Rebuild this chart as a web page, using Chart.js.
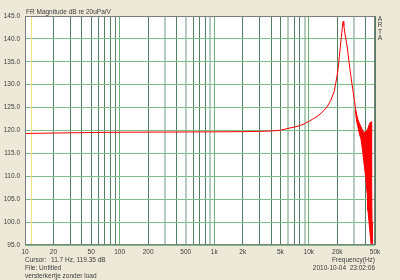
<!DOCTYPE html>
<html lang="en">
  <head>
    <meta charset="UTF-8" />
    <title>FR Magnitude</title>
    <script src="https://cdn.jsdelivr.net/npm/chart.js"></script>
    <style>
      body {
        margin: 0;
        background: #ece9d8;
      }
    </style>
  </head>
  <body>
    <canvas id="frChart" width="400" height="280"></canvas>

    <script>
      // main trace (Hz, dB)
      const freqs = [10, 11.7, 15, 20, 30, 50, 70, 100, 200, 500, 1000, 2000,
        3000, 4000, 5000, 6000, 7000, 8000, 9000, 10000, 11000, 12500, 14000,
        15500, 17000, 18500, 19300, 20000, 20500, 21000, 21500, 22000, 22600,
        23000, 23400, 24100, 24800, 25500, 26500, 27500, 28500, 29500, 30300,
        31000];
      const mags = [119.35, 119.36, 119.4, 119.45, 119.5, 119.55, 119.6,
        119.62, 119.65, 119.68, 119.7, 119.75, 119.8, 119.9, 120.05, 120.45,
        120.75, 121.05, 121.5, 122.0, 122.5, 123.2, 124.1, 125.1, 126.5, 128.5,
        130.5, 132.3, 134.0, 136.2, 138.2, 140.3, 142.5, 143.8, 143.0, 141.0,
        139.6, 138.0, 135.2, 132.6, 130.3, 128.2, 126.6, 125.0];

      // noisy top end: upper and lower edge of the red band
      const bandFreqs = [31000, 32000, 33000, 34000, 35500, 37000, 38200,
        39800, 41400, 42100, 43000, 43900, 44800, 45600, 45900, 46200, 46500,
        46800];
      const bandHigh = [125.0, 123.5, 122.4, 121.7, 120.8, 120.0, 119.5,
        119.8, 120.1, 120.5, 121.0, 121.6, 121.8, 121.9, 120.0, 110.0, 100.0,
        94.0];
      const bandLow = [124.4, 122.0, 120.8, 119.5, 118.2, 115.5, 113.0, 110.0,
        106.0, 102.6, 100.5, 98.5, 96.5, 95.0, 94.5, 94.2, 94.0, 94.0];

      const gridFreqs = [10, 20, 30, 40, 50, 60, 70, 80, 90, 100, 200, 300,
        400, 500, 600, 700, 800, 900, 1000, 2000, 3000, 4000, 5000, 6000,
        7000, 8000, 9000, 10000, 20000, 30000, 40000, 50000];
      const labelFreqs = [10, 20, 50, 100, 200, 500, 1000, 2000, 5000, 10000,
        20000, 50000];
      const decadeFreqs = [100, 1000, 10000];
      const fadedFreqs = [300, 500, 900, 6000, 9000, 30000];

      const cursorFreq = 11.7;
      const cursorDb = 119.35;

      const txtColor = "#3c3c3c";
      const font = { family: "Liberation Sans", size: 6.5 };

      function fmtFreq(v) {
        return v >= 1000 ? v / 1000 + "k" : String(v);
      }

      const pts = (xs, ys) => xs.map((x, i) => ({ x: x, y: ys[i] }));

      const artaPlugin = {
        id: "arta",
        beforeDraw(chart) {
          const c = chart.ctx;
          const a = chart.chartArea;
          c.save();
          c.fillStyle = "#ece9d8";
          c.fillRect(0, 0, chart.width, chart.height);
          c.fillStyle = "#ffffff";
          c.fillRect(a.left, a.top, a.right - a.left, a.bottom - a.top);
          c.restore();
        },
        beforeDatasetsDraw(chart) {
          // yellow cursor line
          const c = chart.ctx;
          const a = chart.chartArea;
          const x = Math.round(chart.scales.x.getPixelForValue(cursorFreq)) + 0.5;
          c.save();
          c.strokeStyle = "#f0e27a";
          c.lineWidth = 1;
          c.beginPath();
          c.moveTo(x, a.top);
          c.lineTo(x, a.bottom);
          c.stroke();
          c.restore();
        },
        afterDraw(chart) {
          const c = chart.ctx;
          const a = chart.chartArea;
          c.save();
          c.strokeStyle = "#7d7d7d";
          c.lineWidth = 1;
          c.strokeRect(a.left + 0.5, a.top + 0.5, a.right - a.left - 1, a.bottom - a.top - 1);

          c.fillStyle = txtColor;
          c.font = "6.5px 'Liberation Sans'";
          c.textBaseline = "middle";
          c.textAlign = "left";
          c.fillText("FR Magnitude dB re 20uPa/V", 26, 12);
          c.fillText("Cursor:", 25, 260);
          c.fillText(cursorFreq + " Hz, " + cursorDb.toFixed(2) + " dB", 51, 260);
          c.fillText("File: Untitled", 25, 268.5);
          c.fillText("versterkertje zonder load", 25, 276);
          c.textAlign = "right";
          c.fillText("Frequency(Hz)", 375, 260);
          c.fillText("2010-10-04  23:02:06", 375, 268.5);
          c.textAlign = "center";
          "ARTA".split("").forEach((ch, i) => c.fillText(ch, 380, 19 + i * 6.4));
          c.restore();
        },
      };

      new Chart(document.getElementById("frChart"), {
        type: "line",
        data: {
          datasets: [
            {
              data: pts(freqs, mags),
              borderColor: "#ff0000",
              borderWidth: 1,
              pointRadius: 0,
              tension: 0,
            },
            {
              data: pts(bandFreqs, bandHigh),
              borderColor: "#ff0000",
              borderWidth: 1,
              pointRadius: 0,
              tension: 0,
            },
            {
              data: pts(bandFreqs, bandLow),
              borderColor: "#ff0000",
              backgroundColor: "#ff0000",
              borderWidth: 1,
              pointRadius: 0,
              tension: 0,
              fill: "-1",
            },
          ],
        },
        options: {
          responsive: false,
          animation: false,
          events: [],
          layout: { padding: { left: 0, top: 16, right: 25, bottom: 0 } },
          plugins: { legend: { display: false }, tooltip: { enabled: false } },
          scales: {
            x: {
              type: "logarithmic",
              min: 10,
              max: 50000,
              afterFit: (s) => { s.height = 35; },
              afterBuildTicks: (s) => {
                s.ticks = gridFreqs.map((v) => ({ value: v }));
              },
              border: { display: false },
              grid: {
                drawTicks: false,
                lineWidth: (ctx) => (fadedFreqs.includes(ctx.tick && ctx.tick.value) ? 2 : 1),
                color: (ctx) => {
                  const v = ctx.tick && ctx.tick.value;
                  if (decadeFreqs.includes(v)) return "#6cb27c";
                  if (fadedFreqs.includes(v)) return "#b4cbbd";
                  return "#527f61";
                },
              },
              ticks: {
                autoSkip: false,
                maxRotation: 0,
                padding: 3,
                color: txtColor,
                font: font,
                callback: (v) => (labelFreqs.includes(v) ? fmtFreq(v) : ""),
              },
            },
            y: {
              min: 95,
              max: 145,
              afterFit: (s) => { s.width = 25; },
              border: { display: false },
              grid: { drawTicks: false, color: "#7cbd8a" },
              ticks: {
                stepSize: 5,
                padding: 5,
                color: txtColor,
                font: font,
                callback: (v) => v.toFixed(1),
              },
            },
          },
        },
        plugins: [artaPlugin],
      });
    </script>
  </body>
</html>
